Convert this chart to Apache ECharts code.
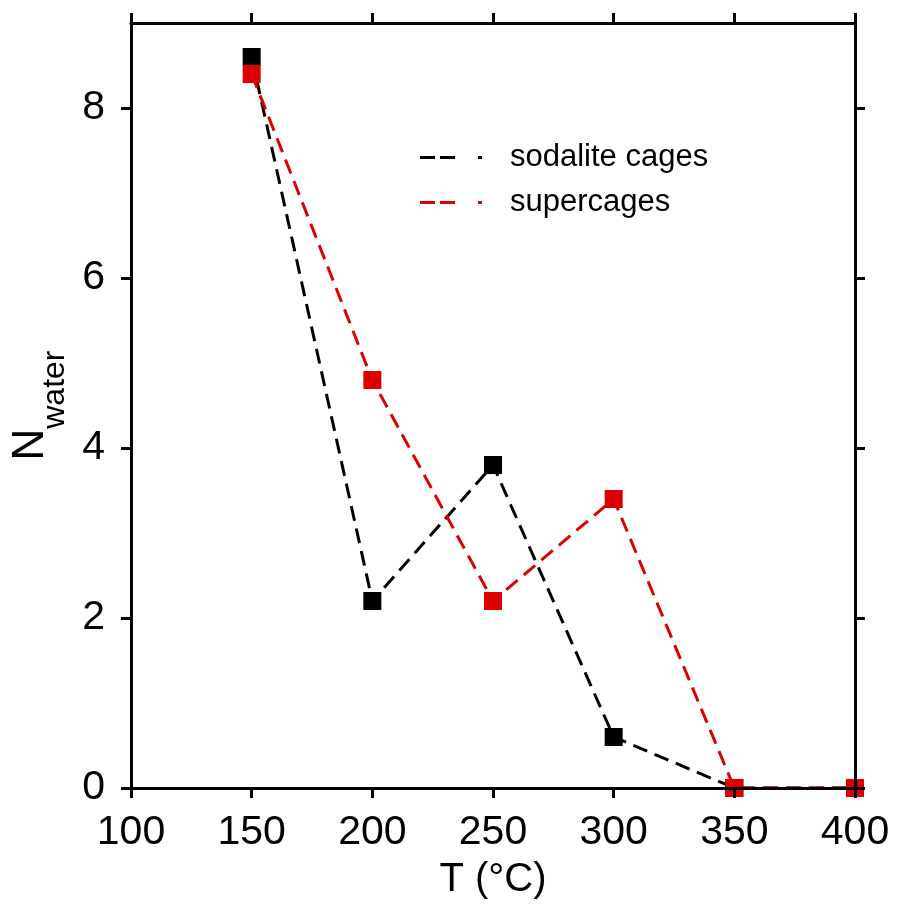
<!DOCTYPE html>
<html><head><meta charset="utf-8">
<script src="https://cdn.jsdelivr.net/npm/echarts@6/dist/echarts.min.js"></script>
<style>html,body{margin:0;padding:0;background:#fff}#c{width:899px;height:908px}</style>
</head><body><div id="c"></div>
<script>
const temps = [150, 200, 250, 300, 350, 400];
const sodalite = [8.6, 2.2, 3.8, 0.6, 0, 0];
const supercages = [8.4, 4.8, 2.2, 3.4, 0, 0];
const xTicks = [100, 150, 200, 250, 300, 350, 400];
const yTicks = [0, 2, 4, 6, 8];
const seriesNames = ['sodalite cages', 'supercages'];

const FONT = '"Liberation Sans", Arial, Helvetica, sans-serif';
const RED = '#dd0000';
const chart = echarts.init(document.getElementById('c'));
const axisLine = {show: true, onZero: false, lineStyle: {color: '#000', width: 3}};
const tick = {show: true, inside: false, length: 10, lineStyle: {color: '#000', width: 3}};
const dashIcon = 'path://M0,0h15v3h-15z M20,0h15v3h-15z M58,0h4v3h-4z';

chart.setOption({
  animation: false,
  backgroundColor: '#fff',
  textStyle: {fontFamily: FONT},
  grid: {left: 131, right: 44, top: 23, bottom: 120, containLabel: false},
  legend: {
    orient: 'vertical', left: 415, top: 137, itemGap: 14,
    icon: dashIcon, itemWidth: 62, itemHeight: 3,
    textStyle: {fontFamily: FONT, fontSize: 31, color: '#000', padding: [0, 0, 0, 23]},
    data: [
      {name: seriesNames[0], itemStyle: {color: '#000'}},
      {name: seriesNames[1], itemStyle: {color: RED}}
    ]
  },
  xAxis: [{
    type: 'value', min: 100, max: 400, interval: 50, z: 10,
    axisLine: axisLine, axisTick: tick, splitLine: {show: false},
    axisLabel: {fontFamily: FONT, fontSize: 41, color: '#000', margin: 24,
      customValues: xTicks},
    name: 'T (°C)', nameLocation: 'middle', nameGap: 72,
    nameTextStyle: {fontFamily: FONT, fontSize: 40, color: '#000'}
  }, {
    type: 'value', position: 'top', min: 100, max: 400, interval: 50, z: 10,
    axisLine: axisLine, axisTick: tick, axisLabel: {show: false}, splitLine: {show: false}
  }],
  yAxis: [{
    type: 'value', min: 0, max: 9, interval: 1, z: 10,
    axisLine: axisLine, splitLine: {show: false},
    axisTick: Object.assign({}, tick, {customValues: yTicks}),
    axisLabel: {fontFamily: FONT, fontSize: 41, color: '#000', margin: 26,
      customValues: yTicks},
    name: '{n|N}{s|water}', nameLocation: 'middle', nameGap: 55,
    nameTextStyle: {
      rich: {
        n: {fontFamily: FONT, fontSize: 44, color: '#000', padding: [0, 0, 18, 0], verticalAlign: 'bottom'},
        s: {fontFamily: FONT, fontSize: 32, color: '#000', verticalAlign: 'bottom'}
      }
    }
  }, {
    type: 'value', position: 'right', min: 0, max: 9, interval: 1, z: 10,
    axisLine: axisLine, splitLine: {show: false},
    axisTick: Object.assign({}, tick, {customValues: yTicks}),
    axisLabel: {show: false}
  }],
  series: [{
    name: seriesNames[0], type: 'line',
    data: temps.map((t, i) => [t, sodalite[i]]),
    symbol: 'rect', symbolSize: 18, z: 3,
    itemStyle: {color: '#000'},
    lineStyle: {color: '#000', width: 3, type: [15, 8]}
  }, {
    name: seriesNames[1], type: 'line',
    data: temps.map((t, i) => [t, supercages[i]]),
    symbol: 'rect', symbolSize: 18, z: 4,
    itemStyle: {color: RED},
    lineStyle: {color: RED, width: 3, type: [15, 8]}
  }]
});
</script></body></html>
